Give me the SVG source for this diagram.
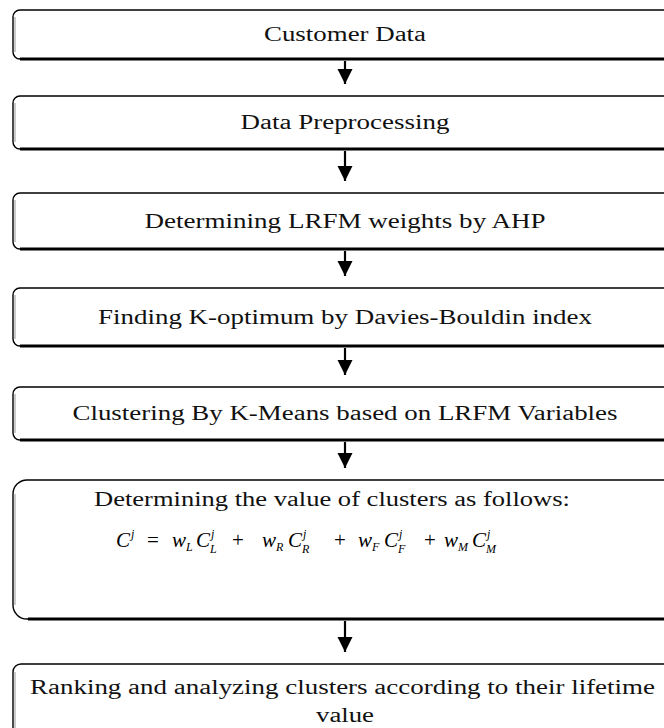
<svg xmlns="http://www.w3.org/2000/svg" width="664" height="728" viewBox="0 0 664 728">
<style>
.box{fill:#fff;stroke:#000;stroke-width:1.4}
.base{stroke:#000;stroke-width:3}
.edge{stroke:#999;stroke-width:1}
.t{font-family:"Liberation Serif","Times New Roman",serif;font-size:20px;fill:#111;text-anchor:middle}
.m{font-family:"Liberation Serif","Times New Roman",serif;font-style:italic;fill:#000}
.m .n{font-style:normal}
.m .s{font-size:12px}
.conn line{stroke:#000;stroke-width:2.2}
</style>
<defs>
<marker id="ah" markerWidth="8" markerHeight="7" refX="7" refY="3.5" orient="auto" markerUnits="strokeWidth">
<path d="M0,0 L7,3.5 L0,7 Z" fill="#000"/>
</marker>
</defs>
<rect width="664" height="728" fill="#fff"/>
<g id="n1">
<rect class="box" x="13" y="10" width="720" height="49" rx="7"/>
<line class="edge" x1="15" y1="17" x2="15" y2="52"/>
<line class="base" x1="20" y1="59" x2="664" y2="59"/>
<text class="t" x="345" y="41" textLength="162" lengthAdjust="spacingAndGlyphs">Customer Data</text>
</g>
<g id="n2">
<rect class="box" x="13" y="96" width="720" height="53" rx="7"/>
<line class="edge" x1="15" y1="103" x2="15" y2="142"/>
<line class="base" x1="20" y1="149" x2="664" y2="149"/>
<text class="t" x="345" y="129" textLength="209" lengthAdjust="spacingAndGlyphs">Data Preprocessing</text>
</g>
<g id="n3">
<rect class="box" x="13" y="193" width="720" height="56" rx="7"/>
<line class="edge" x1="15" y1="200" x2="15" y2="242"/>
<line class="base" x1="20" y1="249" x2="664" y2="249"/>
<text class="t" x="345" y="228" textLength="401" lengthAdjust="spacingAndGlyphs">Determining LRFM weights by AHP</text>
</g>
<g id="n4">
<rect class="box" x="13" y="288" width="720" height="58" rx="7"/>
<line class="edge" x1="15" y1="295" x2="15" y2="339"/>
<line class="base" x1="20" y1="346" x2="664" y2="346"/>
<text class="t" x="345" y="324" textLength="494" lengthAdjust="spacingAndGlyphs">Finding K-optimum by Davies-Bouldin index</text>
</g>
<g id="n5">
<rect class="box" x="13" y="387" width="720" height="53" rx="7"/>
<line class="edge" x1="15" y1="394" x2="15" y2="433"/>
<line class="base" x1="20" y1="440" x2="664" y2="440"/>
<text class="t" x="345" y="420" textLength="545" lengthAdjust="spacingAndGlyphs">Clustering By K-Means based on LRFM Variables</text>
</g>
<g id="n6">
<rect class="box" x="13" y="480" width="720" height="139" rx="14"/>
<line class="edge" x1="15" y1="494" x2="15" y2="605"/>
<line class="base" x1="28" y1="619" x2="664" y2="619"/>
<text class="t" x="332" y="506" textLength="476" lengthAdjust="spacingAndGlyphs">Determining the value of clusters as follows:</text>
<g class="m" font-size="21">
<text x="116" y="547">C</text>
<text x="131" y="538" class="s">j</text>
<text x="147" y="547" class="n">=</text>
<text x="172" y="547">w</text>
<text x="186" y="551" class="s">L</text>
<text x="196" y="547">C</text>
<text x="211" y="538" class="s">j</text>
<text x="210" y="553" class="s">L</text>
<text x="232" y="547" class="n">+</text>
<text x="262" y="547">w</text>
<text x="276" y="551" class="s">R</text>
<text x="288" y="547">C</text>
<text x="303" y="538" class="s">j</text>
<text x="302" y="553" class="s">R</text>
<text x="334" y="547" class="n">+</text>
<text x="358" y="547">w</text>
<text x="372" y="551" class="s">F</text>
<text x="384" y="547">C</text>
<text x="399" y="538" class="s">j</text>
<text x="398" y="553" class="s">F</text>
<text x="424" y="547" class="n">+</text>
<text x="444" y="547">w</text>
<text x="458" y="551" class="s">M</text>
<text x="472" y="547">C</text>
<text x="487" y="538" class="s">j</text>
<text x="486" y="553" class="s">M</text>
</g>
</g>
<g id="n7">
<rect class="box" x="13" y="664" width="720" height="120" rx="8"/>
<line class="edge" x1="15" y1="672" x2="15" y2="728"/>
<text class="t" x="342.5" y="694" textLength="625" lengthAdjust="spacingAndGlyphs">Ranking and analyzing clusters according to their lifetime</text>
<text class="t" x="345" y="722" textLength="58" lengthAdjust="spacingAndGlyphs">value</text>
</g>
<g id="connectors" class="conn">
<line x1="345" y1="61" x2="345" y2="84" marker-end="url(#ah)"/>
<line x1="345" y1="151" x2="345" y2="181" marker-end="url(#ah)"/>
<line x1="345" y1="251" x2="345" y2="276" marker-end="url(#ah)"/>
<line x1="345" y1="348" x2="345" y2="375" marker-end="url(#ah)"/>
<line x1="345" y1="442" x2="345" y2="468" marker-end="url(#ah)"/>
<line x1="345" y1="621" x2="345" y2="652" marker-end="url(#ah)"/>
</g>
</svg>
